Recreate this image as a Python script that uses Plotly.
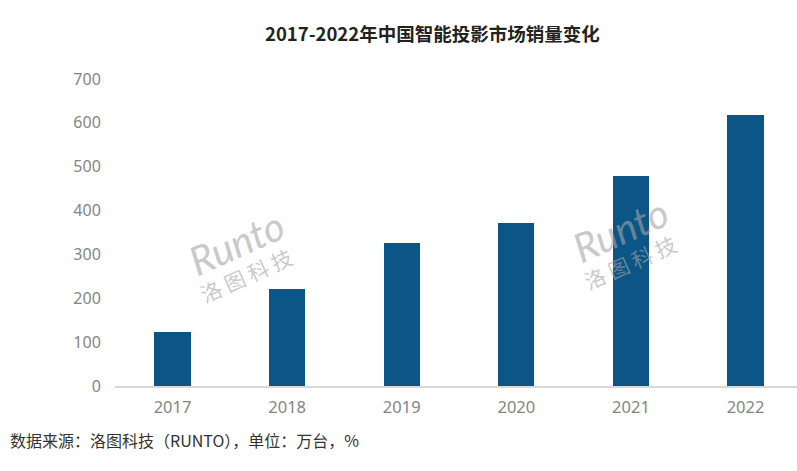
import plotly.graph_objects as go

years = ["2017", "2018", "2019", "2020", "2021", "2022"]
sales = [124, 222, 325, 372, 479, 617]
y_ticks = [0, 100, 200, 300, 400, 500, 600, 700]

title_text = "2017-2022年中国智能投影市场销量变化"
source_text = "数据来源：洛图科技（RUNTO），单位：万台，%"

CJK = "Noto Sans CJK SC"
NUM = "Noto Sans, Open Sans, sans-serif"

fig = go.Figure()
fig.add_trace(go.Bar(
    x=years, y=sales,
    marker=dict(color="#0b5587", line=dict(width=0)),
    width=0.315,
    hoverinfo="x+y",
))

annotations = [
    dict(text=f"<b>{title_text}</b>", x=432, y=33, xanchor="center", yanchor="middle",
         showarrow=False, font=dict(family=CJK, size=18.5, color="#222222")),
    dict(text=source_text, x=8, y=440, xanchor="left", yanchor="middle",
         showarrow=False, font=dict(family=CJK, size=16, color="#333333")),
]
# watermarks
for cx, cy in [(236, 243), (620, 230)]:
    annotations.append(dict(text="<i>Runto</i>", x=cx, y=cy, showarrow=False,
                            xanchor="center", yanchor="middle", textangle=-24,
                            font=dict(family="Lato", size=40, color="rgba(165,165,165,0.6)")))
    annotations.append(dict(text="洛 图 科 技", x=cx + 10, y=cy + 32, showarrow=False,
                            xanchor="center", yanchor="middle", textangle=-24,
                            font=dict(family=CJK, size=21, color="rgba(165,165,165,0.6)")))

# convert pixel positions into paper coordinates
W, H = 797, 471
ml, mr, mt, mb = 115, 0, 79, 85
pw, ph = W - ml - mr, H - mt - mb
for a in annotations:
    px, py = a["x"], a["y"]
    a["xref"] = "paper"; a["yref"] = "paper"
    a["x"] = (px - ml) / pw
    a["y"] = 1 - (py - mt) / ph

fig.update_layout(
    width=W, height=H,
    margin=dict(l=ml, r=mr, t=mt, b=mb),
    paper_bgcolor="white", plot_bgcolor="white",
    showlegend=False,
    annotations=annotations,
    bargap=0,
    xaxis=dict(
        type="category", range=[-0.502, 5.449],
        showgrid=False, zeroline=False,
        showline=True, linecolor="#d9d9d9", linewidth=1.5,
        ticks="outside", ticklen=5, tickcolor="rgba(0,0,0,0)",
        tickfont=dict(family=NUM, size=16.5, color="#858585"),
        fixedrange=True,
    ),
    yaxis=dict(
        range=[0, 700], tickvals=y_ticks,
        showgrid=False, zeroline=False, showline=False,
        ticks="outside", ticklen=10, tickcolor="rgba(0,0,0,0)",
        tickfont=dict(family=NUM, size=16, color="#858585"),
        fixedrange=True,
    ),
)

fig.write_html("out.html", config={"displayModeBar": False},
               post_script="document.body.style.margin='0';document.body.style.overflow='hidden';")
